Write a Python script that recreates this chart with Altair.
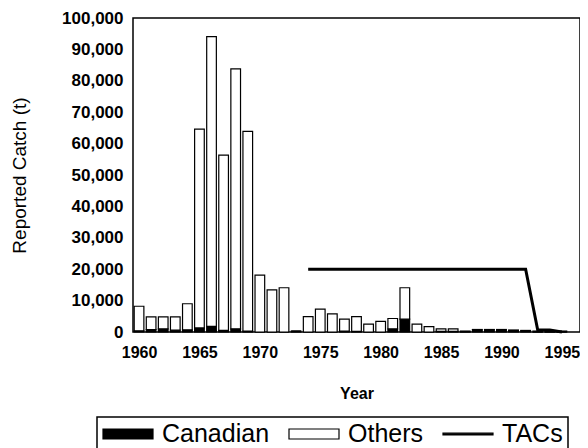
import altair as alt
import pandas as pd

# ---- data ----
years = [1960, 1961, 1962, 1963, 1964, 1965, 1966, 1967, 1968, 1969,
         1970, 1971, 1972, 1973, 1974, 1975, 1976, 1977, 1978, 1979,
         1980, 1981, 1982, 1983, 1984, 1985, 1986, 1987, 1988, 1989,
         1990, 1991, 1992, 1993, 1994, 1995]
canadian = [400, 800, 1000, 600, 700, 1300, 1800, 500, 1000, 300,
            0, 0, 0, 300, 0, 0, 0, 300, 200, 0,
            0, 1000, 4100, 0, 0, 200, 200, 100, 700, 700,
            700, 500, 400, 0, 0, 0]
others = [7800, 4000, 3800, 4200, 8300, 63300, 92300, 55800, 82800, 63600,
          18100, 13400, 14100, 0, 4900, 7300, 5800, 3800, 4700, 2500,
          3400, 3300, 10000, 2500, 1700, 800, 800, 200, 100, 100,
          100, 100, 100, 300, 200, 300]
tac_years = [1974, 1975, 1976, 1977, 1978, 1979, 1980, 1981, 1982, 1983,
             1984, 1985, 1986, 1987, 1988, 1989, 1990, 1991, 1992, 1993,
             1994, 1995]
tac_values = [20000, 20000, 20000, 20000, 20000, 20000, 20000, 20000, 20000, 20000,
              20000, 20000, 20000, 20000, 20000, 20000, 20000, 20000, 20000, 600,
              600, 0]
series_names = ["Canadian", "Others", "TACs"]
x_ticks = [1960, 1965, 1970, 1975, 1980, 1985, 1990, 1995]
y_ticks = [0, 10000, 20000, 30000, 40000, 50000, 60000, 70000, 80000, 90000, 100000]

rows = []
for y, c, o in zip(years, canadian, others):
    rows.append({"year": y, "series": "Canadian", "ord": 0, "value": c})
    rows.append({"year": y, "series": "Others", "ord": 1, "value": o})
bar_df = pd.DataFrame(rows)
tac_df = pd.DataFrame({"year": tac_years, "value": tac_values})
legend_df = pd.DataFrame({"series": series_names})

FONT = "Liberation Sans"

x_scale = alt.Scale(domain=[1959.5, 1996.5], nice=False, zero=False)
y_scale = alt.Scale(domain=[0, 100000], nice=False)
x_axis = alt.Axis(values=x_ticks, format="d", labelFontSize=16, labelFontWeight="bold",
                  labelFont=FONT, labelColor="black", ticks=False, domain=False, grid=False,
                  labelPadding=12, titleFontSize=16, titleFontWeight="bold", titleFont=FONT,
                  titleColor="black", titlePadding=25)
y_axis = alt.Axis(values=y_ticks, format=",d", labelFontSize=17, labelFontWeight="bold",
                  labelFont=FONT, labelColor="black", ticks=False, domain=False, grid=False,
                  labelPadding=10, titleFontSize=19, titleFontWeight="normal", titleFont=FONT,
                  titleColor="black", titlePadding=32)

bars = alt.Chart(bar_df).transform_stack(
    stack="value", groupby=["year"], as_=["y0", "y1"], sort=[alt.SortField("ord", "ascending")]
).transform_calculate(
    x1="datum.year - 0.4", x2="datum.year + 0.4"
).mark_bar(stroke="black", strokeWidth=1.2).encode(
    x=alt.X("x1:Q", scale=x_scale, axis=x_axis, title="Year"),
    x2="x2:Q",
    y=alt.Y("y0:Q", scale=y_scale, axis=y_axis, title="Reported Catch (t)"),
    y2="y1:Q",
    fill=alt.condition("datum.series == 'Canadian'", alt.value("black"), alt.value("white")),
)

line = alt.Chart(tac_df).mark_line(color="black", strokeWidth=3).encode(
    x=alt.X("year:Q", scale=x_scale, axis=x_axis, title="Year"),
    y=alt.Y("value:Q", scale=y_scale, axis=y_axis, title="Reported Catch (t)"),
)

rect_path = "M-1,-0.2H1V0.2H-1Z"
line_path = "M-1,-0.035H1V0.035H-1Z"
leg = alt.Legend(orient="none", legendX=-36, legendY=399, direction="horizontal", title=None,
                 strokeColor="black", padding=5, labelFontSize=25, labelFont=FONT,
                 labelColor="black", symbolSize=2500, symbolOpacity=1, symbolStrokeWidth=1.2,
                 symbolStrokeColor="black", labelOffset=8, columnPadding=18, clipHeight=24)
legend_layer = alt.Chart(legend_df).mark_point(filled=True, opacity=0, strokeWidth=1.2,
                                                 size=2500).encode(
    fill=alt.Fill("series:N", scale=alt.Scale(domain=series_names, range=["black", "white", "black"]),
                  legend=leg),
    stroke=alt.Stroke("series:N", scale=alt.Scale(domain=series_names, range=["black", "black", "black"]),
                      legend=leg),
    shape=alt.Shape("series:N", scale=alt.Scale(domain=series_names,
                                                range=[rect_path, rect_path, line_path]),
                    legend=leg),
    x=alt.value(0),
    y=alt.value(0),
)

chart = alt.layer(bars, line, legend_layer).properties(
    width=447, height=314,
    autosize=alt.AutoSizeParams(type="none"),
    padding={"left": 125, "top": 10, "right": 0, "bottom": 116},
).configure_view(stroke="black", strokeWidth=1.5).configure_legend(strokeWidth=1.5)

chart.save("out.html", embed_options={"renderer": "svg", "actions": False})
